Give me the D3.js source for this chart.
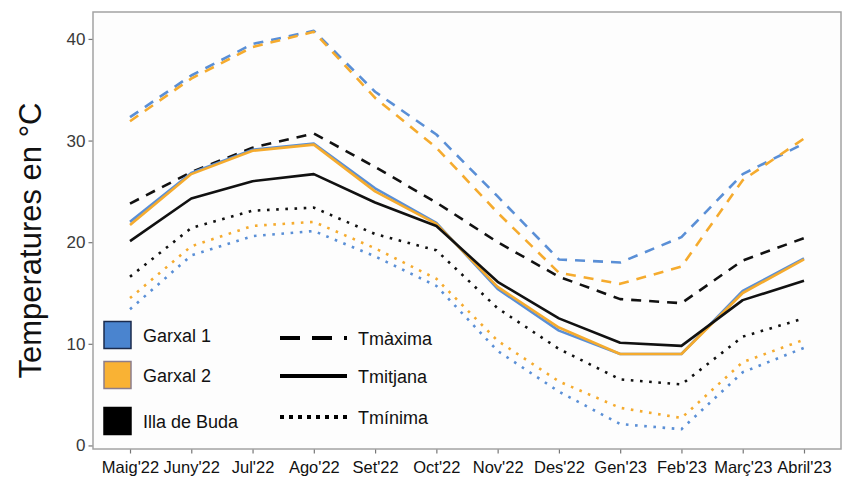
<!DOCTYPE html>
<html>
<head>
<meta charset="utf-8">
<script src="https://cdn.jsdelivr.net/npm/d3@7"></script>
<style>
  html, body { margin: 0; padding: 0; background: #ffffff; }
  svg { display: block; font-family: "Liberation Sans", Arial, sans-serif; }
</style>
</head>
<body>
<svg id="chart" width="846" height="487"></svg>
<script>
const months = ["Maig'22","Juny'22","Jul'22","Ago'22","Set'22","Oct'22","Nov'22","Des'22","Gen'23","Feb'23","Març'23","Abril'23"];
const yTicks = [0, 10, 20, 30, 40];

const garxal1Max  = [32.3, 36.4, 39.5, 40.8, 34.8, 30.6, 24.5, 18.3, 18.0, 20.5, 26.7, 29.7];
const garxal2Max  = [31.9, 36.1, 39.2, 40.7, 34.2, 29.3, 22.9, 17.0, 15.9, 17.6, 26.1, 30.2];
const illaMax     = [23.8, 26.9, 29.3, 30.7, 27.4, 23.9, 20.0, 16.6, 14.4, 14.0, 18.2, 20.4];

const garxal1Mean = [22.0, 26.8, 29.1, 29.7, 25.3, 21.9, 15.4, 11.3, 9.0, 9.0, 15.2, 18.4];
const garxal2Mean = [21.7, 26.7, 29.0, 29.6, 25.0, 21.8, 15.6, 11.6, 9.0, 9.0, 15.0, 18.3];
const illaMean    = [20.1, 24.3, 26.0, 26.7, 23.9, 21.6, 16.1, 12.5, 10.1, 9.8, 14.3, 16.2];

const garxal1Min  = [13.4, 18.7, 20.6, 21.1, 18.6, 15.7, 9.3, 5.3, 2.1, 1.6, 7.2, 9.6];
const garxal2Min  = [14.5, 19.6, 21.6, 22.0, 19.4, 16.4, 10.3, 6.3, 3.7, 2.7, 8.2, 10.4];
const illaMin     = [16.6, 21.4, 23.1, 23.4, 20.8, 19.2, 13.5, 9.5, 6.5, 6.0, 10.7, 12.5];

const sites = ["Garxal 1", "Garxal 2", "Illa de Buda"];
const siteColors = ["#5a8fd6", "#f5ab2e", "#111111"];
const siteFill = ["#4a84cf", "#f9b234", "#000000"];
const siteStroke = ["#1b2b4d", "#8c7d8c", "#000000"];
const types = ["Tmàxima", "Tmitjana", "Tmínima"];

const svg = d3.select("#chart");
const P = { left: 93, right: 841, top: 12, bottom: 449 };

const x = d3.scalePoint().domain(months).range([P.left, P.right]).padding(0.604);
const y = d3.scaleLinear().domain([-0.35, 42.65]).range([P.bottom, P.top]);

// panel
svg.append("rect").attr("x", P.left).attr("y", P.top)
  .attr("width", P.right - P.left).attr("height", P.bottom - P.top)
  .attr("fill", "#fdfdfd").attr("stroke", "none");

const line = d3.line().x((d, i) => x(months[i])).y(d => y(d));

const series = [
  { v: garxal1Max, s: 0, t: 0 }, { v: garxal2Max, s: 1, t: 0 }, { v: illaMax, s: 2, t: 0 },
  { v: garxal1Min, s: 0, t: 2 }, { v: garxal2Min, s: 1, t: 2 }, { v: illaMin, s: 2, t: 2 },
  { v: garxal1Mean, s: 0, t: 1 }, { v: garxal2Mean, s: 1, t: 1 }, { v: illaMean, s: 2, t: 1 }
];
const dashFor = t => t === 0 ? "10,8" : (t === 2 ? "2.6,6.6" : null);

series.forEach(d => {
  svg.append("path").datum(d.v)
    .attr("d", line)
    .attr("fill", "none")
    .attr("stroke", siteColors[d.s])
    .attr("stroke-width", 2.6)
    .attr("stroke-dasharray", dashFor(d.t))
    .attr("stroke-linejoin", "round");
});

// border
svg.append("rect").attr("x", P.left).attr("y", P.top)
  .attr("width", P.right - P.left).attr("height", P.bottom - P.top)
  .attr("fill", "none").attr("stroke", "#a3a3a3").attr("stroke-width", 1.5);

// axes
const yAxis = svg.append("g").attr("transform", `translate(${P.left - 0.5},0)`)
  .call(d3.axisLeft(y).tickValues(yTicks).tickSize(4).tickPadding(3));
yAxis.select(".domain").remove();
yAxis.selectAll(".tick line").attr("stroke", "#777").attr("stroke-width", 1.2);
yAxis.selectAll(".tick text").attr("fill", "#3a3a3a").style("font-size", "17px")
  .style("font-family", "'Liberation Sans', Arial, sans-serif");

const xAxis = svg.append("g").attr("transform", `translate(0,${P.bottom + 0.5})`)
  .call(d3.axisBottom(x).tickSize(4).tickPadding(8));
xAxis.select(".domain").remove();
xAxis.selectAll(".tick line").attr("stroke", "#777").attr("stroke-width", 1.2);
xAxis.selectAll(".tick text").attr("fill", "#111").style("font-size", "16.5px")
  .style("font-family", "'Liberation Sans', Arial, sans-serif");

// y title
svg.append("text")
  .attr("transform", `translate(41,${(P.top + P.bottom) / 2 + 10}) rotate(-90)`)
  .attr("text-anchor", "middle")
  .attr("fill", "#111")
  .style("font-size", "31px")
  .text("Temperatures en °C");

// legend: sites
const legSiteY = [335, 375, 421];
sites.forEach((s, i) => {
  svg.append("rect").attr("x", 104).attr("y", legSiteY[i] - 13.5)
    .attr("width", 27).attr("height", 27)
    .attr("fill", siteFill[i]).attr("stroke", siteStroke[i]).attr("stroke-width", 1.5);
  svg.append("text").attr("x", 143).attr("y", legSiteY[i] + 6.5)
    .attr("fill", "#111").style("font-size", "18px").text(s);
});

// legend: line types
const legTypeY = [338, 376, 417];
const legDash = ["20,12", null, "4,5"];
types.forEach((t, i) => {
  svg.append("line").attr("x1", 280).attr("x2", 347)
    .attr("y1", legTypeY[i]).attr("y2", legTypeY[i])
    .attr("stroke", "#000").attr("stroke-width", 4)
    .attr("stroke-dasharray", legDash[i]);
  svg.append("text").attr("x", 358).attr("y", legTypeY[i] + 6.5)
    .attr("fill", "#111").style("font-size", "18px").text(t);
});
</script>
</body>
</html>
